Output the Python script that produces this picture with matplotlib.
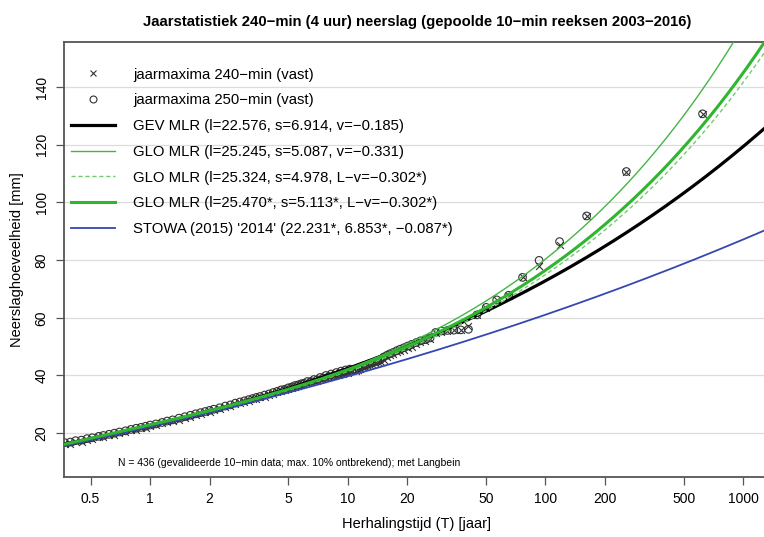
import numpy as np
import matplotlib
matplotlib.use("Agg")
import matplotlib.pyplot as plt
from matplotlib.lines import Line2D

plt.rcParams['font.family'] = ['Liberation Sans', 'DejaVu Sans']

# Fitted distribution parameters (location, scale, shape)
gev_mlr = (22.576, 6.914, -0.185)
glo_mlr = (25.245, 5.087, -0.331)
glo_mlr_lv = (25.324, 4.978, -0.302)
glo_mlr_fixed = (25.470, 5.113, -0.302)
stowa_2014 = (22.231, 6.853, -0.087)

# Annual maxima: return period (years, with Langbein) and depth (mm)
t_240 = [623.4, 256.7, 161.6, 117.9, 92.9, 76.6, 65.1, 56.7, 50.2, 45.0,
         40.8, 37.3, 34.4, 31.9, 29.7, 27.8, 26.1, 24.7, 23.3, 22.2,
         21.1, 20.1, 19.2, 18.4, 17.7, 17.0, 16.3, 15.8, 15.2, 14.7,
         14.2, 13.8, 13.3, 12.9, 12.6, 12.2, 11.9, 11.6, 11.3, 11.0,
         10.5, 10.0, 9.5, 9.0, 8.5, 8.0, 7.5, 7.0, 6.5, 6.0,
         5.6, 5.2, 4.8, 4.4, 4.0, 3.6, 3.3, 3.0, 2.7, 2.4,
         2.1, 1.9, 1.7, 1.5, 1.3, 1.15, 1.0, 0.9, 0.8, 0.7,
         0.62, 0.55, 0.48, 0.42, 0.37,
         10.25, 9.75, 9.25, 8.75, 8.25, 7.75, 7.25, 6.75, 6.25, 5.8,
         5.4, 5.0, 4.6, 4.2, 3.8, 3.45, 3.15, 2.85, 2.55, 2.25,
         2.0, 1.8, 1.6, 1.4, 1.22, 1.07, 0.95, 0.85, 0.75, 0.66,
         0.58, 0.51, 0.45, 0.395]
p_240 = [130.7, 110.7, 95.3, 85.3, 77.8, 74.0, 67.5, 66.0, 63.3, 60.8,
         57.0, 55.8, 55.6, 55.5, 55.2, 54.8, 52.5, 52.0, 51.5, 51.0,
         50.0, 49.6, 49.0, 48.5, 48.0, 47.5, 47.0, 46.3, 45.5, 44.8,
         44.5, 44.2, 44.0, 43.7, 43.4, 43.1, 42.8, 42.4, 42.0, 41.7,
         41.4, 41.0, 40.6, 40.2, 39.7, 39.3, 38.8, 38.2, 37.6, 37.0,
         36.4, 35.7, 34.9, 34.2, 33.3, 32.4, 31.7, 30.9, 30.1, 29.1,
         28.0, 27.2, 26.4, 25.4, 24.3, 23.4, 22.5, 21.7, 21.0, 20.1,
         19.3, 18.6, 17.8, 17.1, 16.4,
         41.6, 41.3, 40.9, 40.5, 40.0, 39.5, 38.9, 38.2, 37.4, 36.7,
         36.0, 35.3, 34.5, 33.6, 32.7, 31.9, 31.1, 30.3, 29.3, 28.3,
         27.4, 26.6, 25.7, 24.7, 23.7, 22.7, 21.9, 21.2, 20.3, 19.5,
         18.7, 17.9, 17.1, 16.4]
t_250 = t_240
p_250 = [130.7, 110.7, 95.3, 86.4, 79.9, 74.0, 67.8, 66.2, 63.6, 61.0,
         56.0, 55.8, 55.7, 55.6, 55.4, 54.9, 53.0, 52.4, 52.0, 51.4,
         50.8, 50.2, 49.6, 49.1, 48.6, 48.0, 47.5, 47.0, 46.4, 45.6,
         45.2, 44.8, 44.4, 44.1, 43.8, 43.5, 43.2, 42.9, 42.5, 42.2,
         41.8, 41.4, 41.0, 40.5, 40.0, 39.6, 39.1, 38.5, 37.9, 37.3,
         36.7, 36.0, 35.2, 34.5, 33.6, 32.7, 32.0, 31.2, 30.4, 29.4,
         28.3, 27.5, 26.7, 25.7, 24.6, 23.7, 22.8, 22.0, 21.3, 20.4,
         19.6, 18.9, 18.1, 17.4, 16.7,
         42.2, 41.9, 41.5, 41.0, 40.5, 40.0, 39.3, 38.6, 37.9, 37.1,
         36.5, 35.7, 35.0, 34.1, 33.2, 32.4, 31.6, 30.8, 29.8, 28.8,
         27.9, 27.1, 26.2, 25.2, 24.2, 23.2, 22.4, 21.7, 20.8, 20.0,
         19.2, 18.4, 17.6, 16.9]

x_ticks = [0.5, 1, 2, 5, 10, 20, 50, 100, 200, 500, 1000]
x_ticklabels = ['0.5', '1', '2', '5', '10', '20', '50', '100', '200', '500', '1000']
y_ticks = [20, 40, 60, 80, 100, 120, 140]


def gev_quantile(T, loc, scale, shape):
    # Langbein: -ln F = 1/T
    return loc + scale / shape * (1.0 - T ** (-shape))


def glo_quantile(T, loc, scale, shape):
    odds = np.expm1(1.0 / T)
    return loc + scale / shape * (1.0 - odds ** shape)


fig = plt.figure(figsize=(7.64, 5.37), dpi=100)
ax = fig.add_axes([64 / 764, 60 / 537, 706 / 764, 435 / 537])

T = np.logspace(np.log10(0.3), np.log10(2000), 400)

for yv in y_ticks:
    ax.axhline(yv, color='#dcdcdc', lw=0.9, zorder=0)

ax.scatter(t_240, p_240, marker='x', s=24, color='#333333', linewidths=0.8, zorder=2)
ax.scatter(t_250, p_250, marker='o', s=30, facecolors='none',
           edgecolors='#333333', linewidths=0.8, zorder=2)

ax.plot(T, gev_quantile(T, *gev_mlr), color='black', lw=2.3, zorder=3)
ax.plot(T, glo_quantile(T, *glo_mlr), color='#44b544', lw=1.0, zorder=4)
ax.plot(T, glo_quantile(T, *glo_mlr_lv), color='#6fcc6f', lw=1.0,
        ls=(0, (3, 2)), zorder=4)
ax.plot(T, glo_quantile(T, *glo_mlr_fixed), color='#2fb52f', lw=2.2, zorder=4)
ax.plot(T, gev_quantile(T, *stowa_2014), color='#3547b0', lw=1.3, zorder=3)

ax.set_xscale('log')
ax.set_xlim(0.367, 1368)
ax.set_ylim(4.8, 155.6)
ax.set_xticks(x_ticks)
ax.set_xticklabels(x_ticklabels)
ax.xaxis.set_minor_locator(matplotlib.ticker.NullLocator())
ax.set_yticks(y_ticks)
ax.set_yticklabels([str(v) for v in y_ticks], rotation=90, va='center')
ax.tick_params(axis='both', direction='out', length=6, width=0.9,
               color='#555555', labelsize=10, pad=5)
for s in ax.spines.values():
    s.set_color('#555555')
    s.set_linewidth(1.3)

ax.set_xlabel('Herhalingstijd (T) [jaar]', fontsize=10.5, labelpad=8)
ax.set_ylabel('Neerslaghoeveelheid [mm]', fontsize=10.5, labelpad=8)
fig.text(417 / 764, 1 - 22 / 537,
         'Jaarstatistiek 240\u2212min (4 uur) neerslag (gepoolde 10\u2212min reeksen 2003\u22122016)',
         ha='center', va='center', fontsize=10.7, fontweight='bold')
ax.text(0.077, 0.02,
        'N = 436 (gevalideerde 10\u2212min data; max. 10% ontbrekend); met Langbein',
        transform=ax.transAxes, fontsize=7.5, ha='left', va='bottom')

handles = [
    Line2D([], [], ls='none', marker='x', color='#333333', markersize=5, mew=0.8),
    Line2D([], [], ls='none', marker='o', mfc='none', mec='#333333', markersize=5, mew=0.8),
    Line2D([], [], color='black', lw=2.3),
    Line2D([], [], color='#44b544', lw=1.0),
    Line2D([], [], color='#6fcc6f', lw=1.0, ls=(0, (3, 2))),
    Line2D([], [], color='#2fb52f', lw=2.2),
    Line2D([], [], color='#3547b0', lw=1.3),
]
labels = [
    'jaarmaxima 240\u2212min (vast)',
    'jaarmaxima 250\u2212min (vast)',
    'GEV MLR (l=22.576, s=6.914, v=\u22120.185)',
    'GLO MLR (l=25.245, s=5.087, v=\u22120.331)',
    'GLO MLR (l=25.324, s=4.978, L\u2212v=\u22120.302*)',
    'GLO MLR (l=25.470*, s=5.113*, L\u2212v=\u22120.302*)',
    "STOWA (2015) '2014' (22.231*, 6.853*, \u22120.087*)",
]
ax.legend(handles, labels, loc='upper left', bbox_to_anchor=(-0.005, 0.965),
          frameon=False, fontsize=10.7, handlelength=3.0, handletextpad=1.2,
          labelspacing=0.79, borderaxespad=0.3)

fig.savefig('out.png', dpi=100)
